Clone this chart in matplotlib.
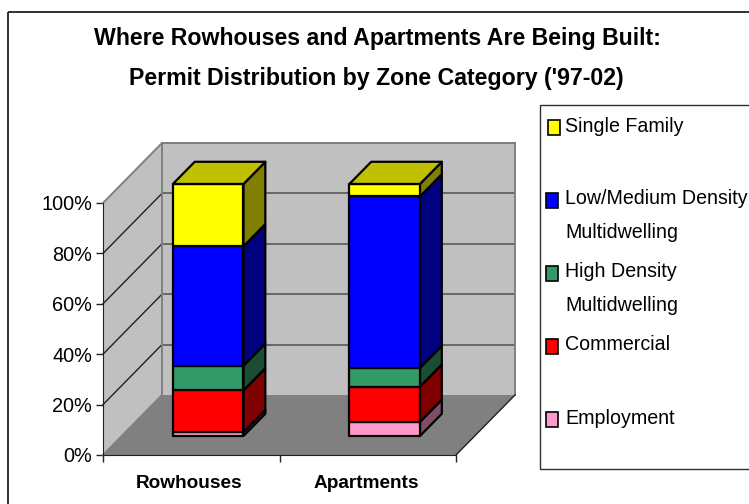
import matplotlib
matplotlib.use('Agg')
import matplotlib.pyplot as plt
from matplotlib.patches import Polygon, Rectangle

plt.rcParams['font.family'] = ['Liberation Sans', 'DejaVu Sans']

W, H = 749, 504

# Data, bottom of the stack first
categories = ['Rowhouses', 'Apartments']
series_names = ['Employment', 'Commercial', 'High Density\nMultidwelling',
                'Low/Medium Density\nMultidwelling', 'Single Family']
rowhouses = [1.5, 16.6, 9.8, 47.4, 24.7]
apartments = [5.6, 14.0, 7.4, 68.1, 4.9]
y_ticks = [0, 20, 40, 60, 80, 100]

front_colors = ['#FF99CC', '#FF0000', '#339966', '#0000FF', '#FFFF00']
side_colors = ['#804D66', '#800000', '#1A4D33', '#000080', '#808000']
top_color = '#C0C000'

# Oblique depth of the fake 3D box, in data units
DX = 59 / 176.5
DY = 60 / 2.52
BAR_W = 0.4
BAR_C = 0.49
D0, D1 = 0.317, 0.687


def proj(x, y, d):
    return (x + d * DX, y + d * DY)


def box_face(ax, pts, color, z, lw=0, edge='none'):
    ax.add_patch(Polygon(pts, closed=True, facecolor=color, edgecolor=edge,
                         linewidth=lw, zorder=z, clip_on=False, joinstyle='round'))


fig = plt.figure(figsize=(W / 100, H / 100), dpi=100)

# Outer chart frame and legend frame, pixel placed on the figure
bg = fig.add_axes([0, 0, 1, 1])
bg.set_xlim(0, W)
bg.set_ylim(H, 0)
bg.axis('off')
bg.add_patch(Rectangle((8, 12), 780, 520, fill=False, edgecolor='#202020', linewidth=1.3))
bg.add_patch(Rectangle((540, 105), 240, 364, fill=False, edgecolor='#303030', linewidth=1))

bg.text(377, 38, 'Where Rowhouses and Apartments Are Being Built:', fontsize=16.7,
        fontweight='bold', ha='center', va='center')
bg.text(376, 78, "Permit Distribution by Zone Category ('97-02)", fontsize=16.7,
        fontweight='bold', ha='center', va='center')

# Legend, top to bottom
legend_y = [127, 215.5, 288.5, 345, 418]
legend_sw = [(548, 120), (546, 193), (546, 266), (546, 339), (546, 412)]
for i in range(5):
    name = series_names[4 - i]
    x0, y0 = legend_sw[i]
    bg.add_patch(Rectangle((x0, y0), 12, 15, facecolor=front_colors[4 - i],
                           edgecolor='black', linewidth=1.2))
    bg.text(565, legend_y[i], name, fontsize=14.1, va='center', ha='left', linespacing=1.94)

# Plot axes: x 0..2 and y 0..100 span the front edge of the box
ax = fig.add_axes([103 / W, 1 - 455 / H, 353 / W, 252 / H])
ax.set_xlim(0, 2)
ax.set_ylim(0, 100)
ax.patch.set_visible(False)

# walls and floor
box_face(ax, [proj(0, 0, 1), proj(2, 0, 1), proj(2, 100, 1), proj(0, 100, 1)], '#C0C0C0', 1)
box_face(ax, [proj(0, 0, 0), proj(0, 0, 1), proj(0, 100, 1), proj(0, 100, 0)], '#C0C0C0', 1)
box_face(ax, [proj(0, 0, 0), proj(2, 0, 0), proj(2, 0, 1), proj(0, 0, 1)], '#808080', 1)

# grid lines on the walls
for t in y_ticks[1:]:
    ax.plot(*zip(proj(0, t, 1), proj(2, t, 1)), color='#606060', lw=1.3, zorder=2, clip_on=False)
    if t < 100:
        ax.plot(*zip(proj(0, t, 0), proj(0, t, 1)), color='#202020', lw=1, zorder=2, clip_on=False)
for a, b in [(proj(0, 100, 0), proj(0, 100, 1)), (proj(0, 0, 1), proj(0, 100, 1)),
             (proj(0, 100, 1), proj(2, 100, 1)), (proj(2, 0, 1), proj(2, 100, 1)),
             (proj(0, 0, 0), proj(0, 0, 1))]:
    ax.plot(*zip(a, b), color='#808080', lw=1.4, zorder=2, clip_on=False)
ax.plot(*zip(proj(2, 0, 0), proj(2, 0, 1)), color='#202020', lw=1, zorder=2, clip_on=False)

# stacked bars
for c, values in enumerate([rowhouses, apartments]):
    xl = c + BAR_C - BAR_W / 2
    xr = c + BAR_C + BAR_W / 2
    base = 0
    for i, v in enumerate(values):
        top = base + v
        z = 3 + i * 0.1
        box_face(ax, [proj(xr, base, D0), proj(xr, base, D1), proj(xr, top, D1), proj(xr, top, D0)],
                 side_colors[i], z, 1.6, 'black')
        box_face(ax, [proj(xl, base, D0), proj(xr, base, D0), proj(xr, top, D0), proj(xl, top, D0)],
                 front_colors[i], z, 1.6, 'black')
        base = top
    box_face(ax, [proj(xl, base, D0), proj(xr, base, D0), proj(xr, base, D1), proj(xl, base, D1)],
             top_color, 4, 1.6, 'black')

ax.set_yticks(y_ticks)
ax.set_yticklabels([f'{t}%' for t in y_ticks], fontsize=14.3)
ax.set_xticks([0, 1, 2])
ax.set_xticklabels([])
ax.tick_params(axis='both', length=5, width=1, color='#202020', pad=3)
for c, name in enumerate(categories):
    ax.annotate(name, (c + BAR_C, 0), xytext=(0, -20.5), textcoords='offset points', fontsize=13.7,
                fontweight='bold', ha='center', va='center', annotation_clip=False)
for s in ['top', 'right']:
    ax.spines[s].set_visible(False)
for s in ['left', 'bottom']:
    ax.spines[s].set_color('#202020')
    ax.spines[s].set_zorder(2.5)

fig.savefig('out.png', dpi=100)
